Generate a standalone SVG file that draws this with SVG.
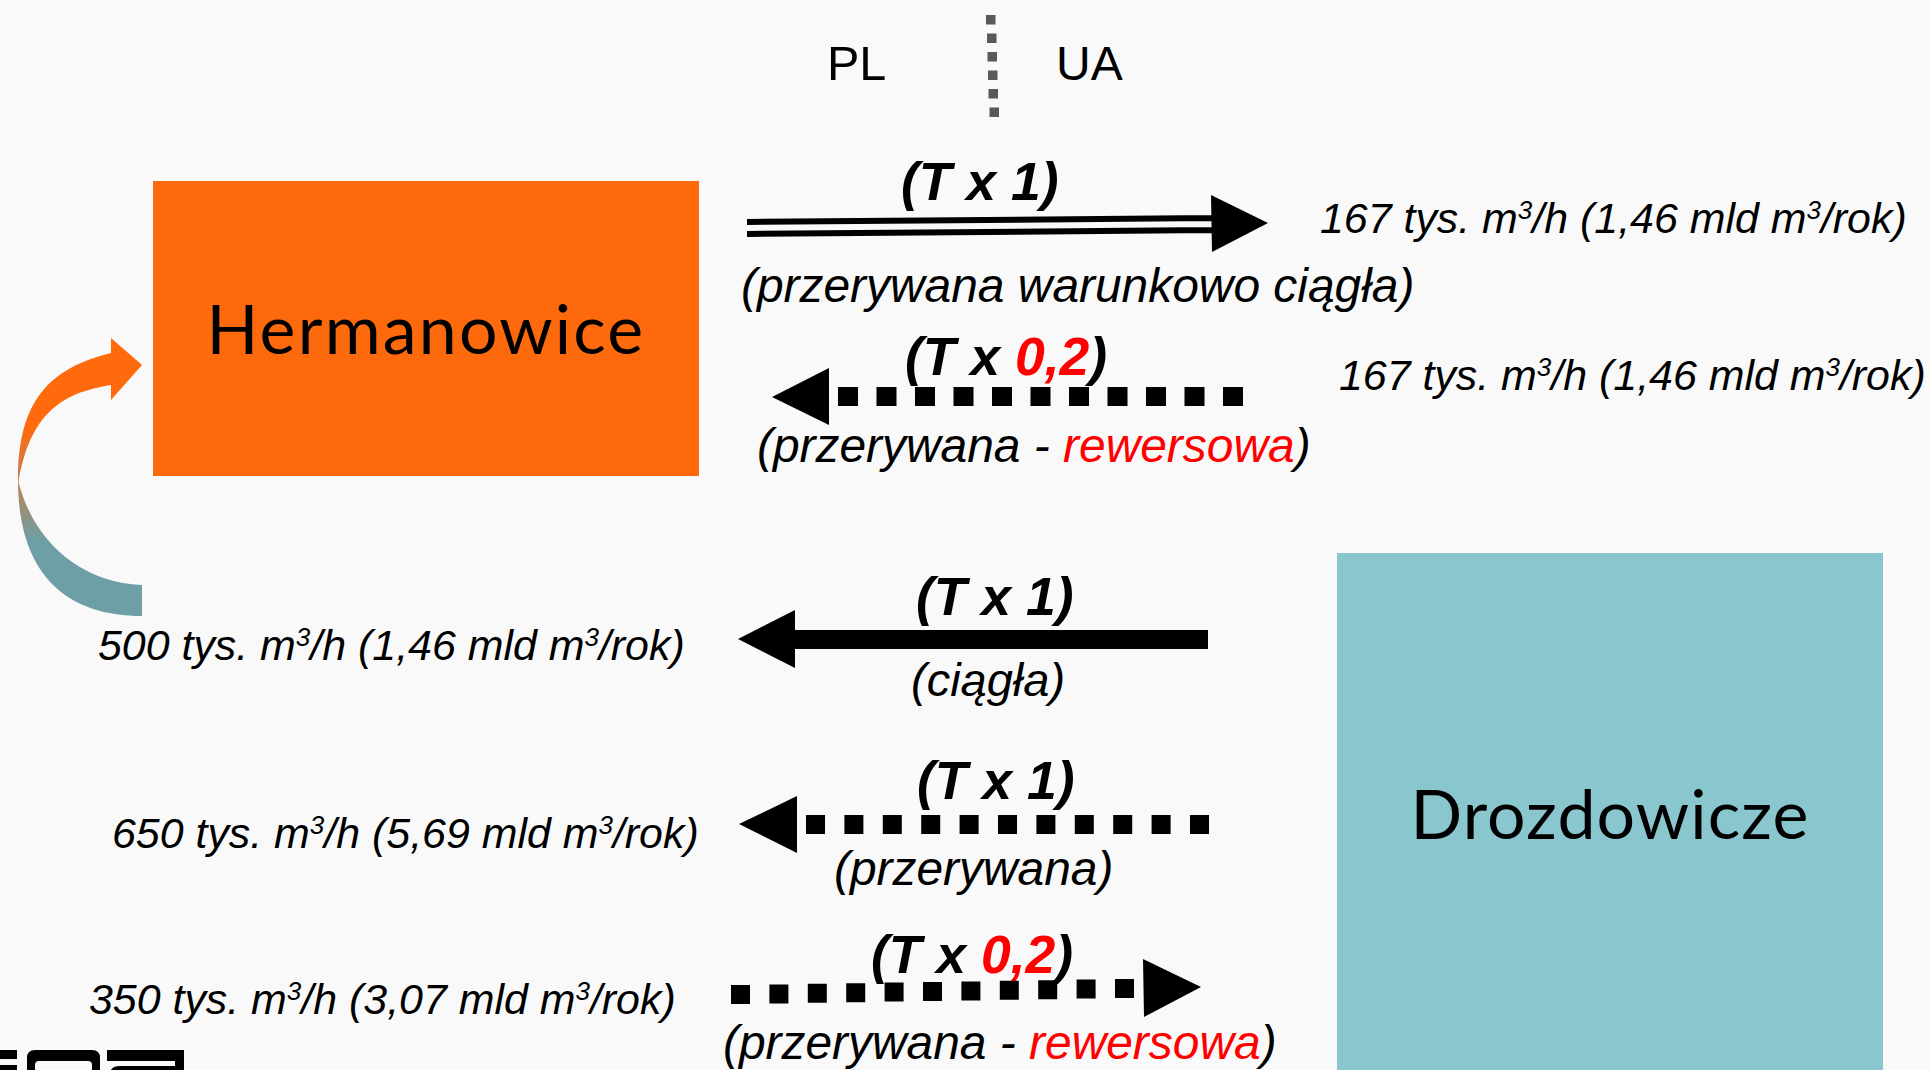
<svg xmlns="http://www.w3.org/2000/svg" width="1929" height="1070" viewBox="0 0 1929 1070">
<style>
.t{font-family:"Liberation Sans",Arial,sans-serif;fill:#000}
.i{font-style:italic;font-size:42.900px}
.c{font-style:italic;font-size:47.900px}
.b{font-style:italic;font-weight:700;font-size:53.500px}
.r{fill:#f00}
.n{font-family:"Lato",sans-serif;font-size:68px;letter-spacing:2.200px;fill:#000;text-anchor:middle}
.s{fill:#000}
.u{font-size:26px}
</style>
<defs>
<linearGradient id="g" gradientUnits="userSpaceOnUse" x1="0" y1="430" x2="0" y2="540"><stop offset="0" stop-color="#FF6A0D"/><stop offset="1" stop-color="#6F9FA6"/></linearGradient>
</defs>
<rect width="1929" height="1070" fill="#F9F9F9"/>
<g id="hermanowice"><rect x="153" y="181" width="546" height="295" fill="#FD6A0E"/><text class="n" x="426" y="354">Hermanowice</text></g>
<g id="drozdowicze"><rect x="1337" y="553" width="546" height="517" fill="#8AC6CE"/><text class="n" x="1610" y="839" style="letter-spacing:1.100px">Drozdowicze</text></g>
<g id="labels">
<text class="t" font-size="48.500" x="827" y="80">PL</text>
<text class="t" font-size="48" x="1056" y="80">UA</text>
<text class="t b" x="901" y="200">(T x 1)</text>
<text class="t c" x="741" y="302">(przerywana warunkowo ciągła)</text>
<text class="t i" x="1320" y="233">167 tys. m<tspan class="u" dy="-14">3</tspan><tspan dy="14">/h (1,46 mld m</tspan><tspan class="u" dy="-14">3</tspan><tspan dy="14">/rok)</tspan></text>
<text class="t b" x="905" y="375">(T x <tspan class="r">0,2</tspan>)</text>
<text class="t c" x="757" y="462">(przerywana - <tspan class="r">rewersowa</tspan>)</text>
<text class="t i" x="1339" y="390">167 tys. m<tspan class="u" dy="-14">3</tspan><tspan dy="14">/h (1,46 mld m</tspan><tspan class="u" dy="-14">3</tspan><tspan dy="14">/rok)</tspan></text>
<text class="t b" x="916" y="615">(T x 1)</text>
<text class="t c" x="911" y="696" style="font-size:47px">(ciągła)</text>
<text class="t i" x="98" y="660">500 tys. m<tspan class="u" dy="-14">3</tspan><tspan dy="14">/h (1,46 mld m</tspan><tspan class="u" dy="-14">3</tspan><tspan dy="14">/rok)</tspan></text>
<text class="t b" x="917" y="799">(T x 1)</text>
<text class="t c" x="834" y="885">(przerywana)</text>
<text class="t i" x="112" y="848">650 tys. m<tspan class="u" dy="-14">3</tspan><tspan dy="14">/h (5,69 mld m</tspan><tspan class="u" dy="-14">3</tspan><tspan dy="14">/rok)</tspan></text>
<text class="t b" x="871" y="973">(T x <tspan class="r">0,2</tspan>)</text>
<text class="t c" x="723" y="1059">(przerywana - <tspan class="r">rewersowa</tspan>)</text>
<text class="t i" x="89" y="1014">350 tys. m<tspan class="u" dy="-14">3</tspan><tspan dy="14">/h (3,07 mld m</tspan><tspan class="u" dy="-14">3</tspan><tspan dy="14">/rok)</tspan></text>
</g>
<g id="connectors">
<path d="M986 15h9.500v9.500h-9.500zM987 33.500h9.500v9.500h-9.500zM987.500 52h9.500v9.500h-9.500zM988 70.500h9.500v9.500h-9.500zM988.500 89h9.500v9.500h-9.500zM989.500 107.500h9.500v9.500h-9.500z" fill="#595959"/>
<path class="s" d="M747 219L1212 215V221L747 225ZM747 231L1212 227V233L747 237ZM1211 195L1268 223L1212 252Z"/>
<path class="s" d="M772 397L829 368V425ZM838 387h20v19h-20zM876.500 387h20v19h-20zM915 387h20v19h-20zM953.500 387h20v19h-20zM992 387h20v19h-20zM1030.500 387h20v19h-20zM1069 387h20v19h-20zM1107.500 387h20v19h-20zM1146 387h20v19h-20zM1184.500 387h20v19h-20zM1223 387h20v19h-20z"/>
<path class="s" d="M738 639L795 610V630H1208V649H795V668Z"/>
<path class="s" d="M739 824L797 796V853ZM806 815h19v19h-19zM844.400 815h19v19h-19zM882.800 815h19v19h-19zM921.200 815h19v19h-19zM959.600 815h19v19h-19zM998 815h19v19h-19zM1036.400 815h19v19h-19zM1074.800 815h19v19h-19zM1113.200 815h19v19h-19zM1151.600 815h19v19h-19zM1190 815h19v19h-19z"/>
<path class="s" d="M1143 959L1201 987L1144 1017ZM731 985h19v19h-19zM769.400 984.400h19v19h-19zM807.800 983.800h19v19h-19zM846.200 983.200h19v19h-19zM884.600 982.600h19v19h-19zM923 982h19v19h-19zM961.400 981.400h19v19h-19zM999.800 980.800h19v19h-19zM1038.200 980.200h19v19h-19zM1076.600 979.600h19v19h-19zM1115 979h19v19h-19z"/>
</g>
<g id="curved-arrow"><path fill="url(#g)" d="M142 365L111 338V353C50 368 18 400 18 480C18 570 62 616 142 616V585C80 583 33 540 18.500 482C30 415 60 393 111 385V400Z"/></g>
<g id="logo"><path class="s" d="M0 1050H17V1059H0ZM0 1065H17V1070H0ZM27 1070V1058Q27 1050 35 1050H92Q100 1050 100 1058V1070H92V1065Q92 1061 88 1061H39Q35 1061 35 1065V1070ZM107 1050H184V1070H175V1061H107ZM111 1070Q113 1066 120 1066H175V1070Z"/></g>
</svg>
